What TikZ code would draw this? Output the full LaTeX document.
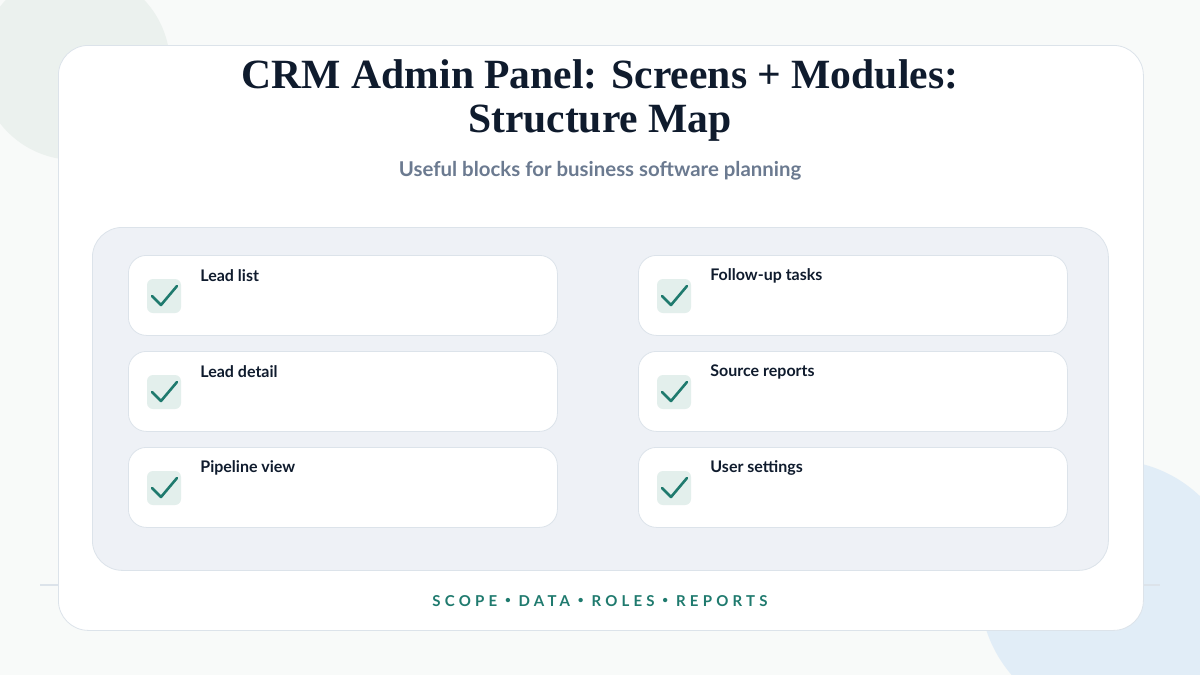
\documentclass[tikz,border=0pt]{standalone}
\usepackage{fontspec}
\setmainfont{Liberation Serif}
\newfontfamily\cardfont{Lato}
\usepackage{xcolor}
\definecolor{ink}{HTML}{0F1B2D}
\definecolor{subgray}{HTML}{6B7A90}
\definecolor{teal}{HTML}{1F7A6E}
\definecolor{tealbg}{HTML}{E3EFEC}
\definecolor{zonebg}{HTML}{EEF1F6}
\definecolor{edgegray}{HTML}{DCE3EA}
\definecolor{blobgreen}{HTML}{EBF1EE}
\definecolor{blobblue}{HTML}{E1EDF7}
\definecolor{pagebg}{HTML}{F8FAF9}

\newcommand{\footdot}{\raisebox{1.3pt}{\fontsize{5}{9}\selectfont•}}

\tikzset{
	card/.style={draw=edgegray, fill=white, rounded corners=9pt, minimum width=214.5pt, minimum height=40pt, anchor=north west},
	tick/.style={fill=tealbg, rounded corners=3pt, minimum size=17pt, inner sep=0pt},
	label/.style={font=\cardfont\bfseries\fontsize{8}{10}\selectfont, text=ink, anchor=west, inner sep=0pt}
}

\begin{document}
\begin{tikzpicture}[x=0.5pt, y=-0.5pt]
	\useasboundingbox[fill=pagebg] (0,0) rectangle (1200,675);
	\fill[blobgreen] (75,65) circle (95);
	\fill[blobblue] (1110,590) circle (130);
	\draw[edgegray, line width=0.6pt] (40,585) -- (1160,585);

	% panel
	\node[draw=edgegray, fill=white, rounded corners=15pt, minimum width=542.5pt, minimum height=292.5pt, anchor=north west] (panel) at (58,45) {};
	\node[font=\bfseries\fontsize{20.8}{22}\selectfont, text=ink, align=center] (title) at (600,100) {CRM Admin Panel: Screens + Modules:\\Structure Map};
	\node[font=\cardfont\bfseries\fontsize{10.2}{12}\selectfont, text=subgray] (sub) at (600,171) {Useful blocks for business software planning};
	\node[draw=edgegray, fill=zonebg, rounded corners=15pt, minimum width=508pt, minimum height=171.5pt, anchor=north west] (zone) at (92,227) {};

	% cards
	\foreach \name/\x/\y in {Lead list/128/255, Lead detail/128/351, Pipeline view/128/447,
		Follow-up tasks/638/255, Source reports/638/351, User settings/638/447} {
		\node[card] (c) at (\x,\y) {};
		\node[tick] (t) at (\x+36,\y+41) {};
		\draw[teal, line width=1.3pt, line cap=round, line join=round] ([shift={(-6pt,0pt)}]t.center) -- ([shift={(-1.5pt,-4.5pt)}]t.center) -- ([shift={(6.5pt,5pt)}]t.center);
		\node[label] (l) at (\x+72,\y+21) {\name};
	}

	\node[font=\cardfont\bfseries\fontsize{7.5}{9}\selectfont, text=teal] (foot) at (600,601) {\addfontfeatures{LetterSpace=28}SCOPE \footdot{} DATA \footdot{} ROLES \footdot{} REPORTS};
\end{tikzpicture}
\end{document}
